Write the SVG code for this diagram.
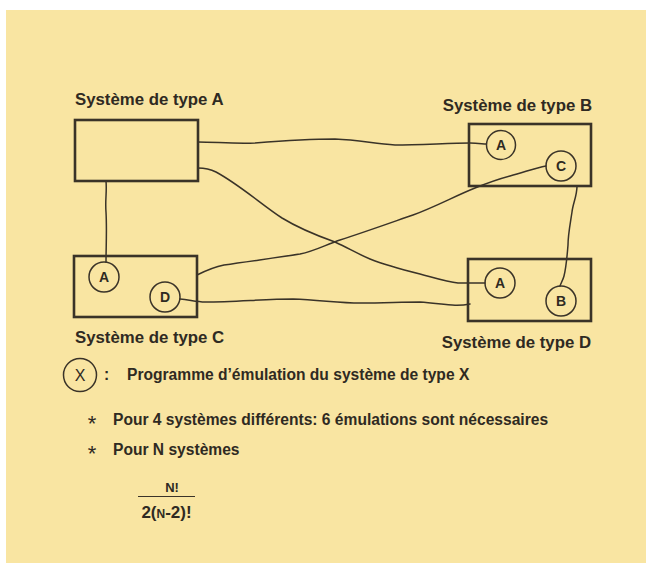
<svg xmlns="http://www.w3.org/2000/svg" width="646" height="563" viewBox="0 0 646 563">
<style>
.bg{fill:#f9e5a2}
.box{fill:none;stroke:#3a3328;stroke-width:2.6}
.emu{fill:none;stroke:#3a3328;stroke-width:1.5}
.wire{fill:none;stroke:#3a3328;stroke-width:1.5;stroke-linejoin:round;stroke-linecap:round}
text{font-family:"Liberation Sans",Arial,Helvetica,sans-serif;font-weight:bold;fill:#2f2a22}
.title{font-size:16.8px}
.cl{font-size:14px;text-anchor:middle}
.leg{font-size:15.6px}
.sm{font-size:12px}
.star{font-size:22px;text-anchor:middle;font-weight:normal}
</style>
<rect x="0" y="0" width="646" height="563" fill="#ffffff"/>
<rect class="bg" x="6" y="10" width="640" height="553"/>

<g id="connectors">
  <path class="wire" d="M198,142 C215,142 235,144 255,143 C280,141 310,139 335,139 C360,140 375,144 395,145 C420,145 450,143 470,143 C478,143 483,144 486,144"/>
  <path class="wire" d="M198,168 C205,168 210,169 216,172 C240,185 262,205 282,218 C300,229 318,236 335,242 C350,249 358,254 370,259 C385,265 400,269 420,274 C435,278 447,282 458,283 L485,283"/>
  <path class="wire" d="M197,275 C205,271 214,267 224,265 C250,261 275,258 300,254 C315,251 325,245 340,240 C365,232 390,223 413,215 C435,207 455,196 475,188 C485,184 495,180 510,176 C525,172 535,168 546,166"/>
  <path class="wire" d="M180,299 C190,300 197,302 205,302 C235,302 265,299 293,299 C320,300 340,303 360,303 C385,303 400,302 420,302 C445,304 455,307 470,304"/>
  <path class="wire" d="M106,181 C107,192 105,200 106,212 C107,230 106,248 106,262"/>
  <path class="wire" d="M577,186 C577,196 573,203 572,212 C570,225 568,235 568,245 C567,258 566,268 564,276 C563,280 561,283 560,286"/>
</g>

<g id="sysA">
  <rect class="box" x="75" y="120" width="123" height="61"/>
  <text class="title" x="75" y="105">Système de type A</text>
</g>

<g id="sysB">
  <rect class="box" x="469" y="124" width="122" height="62"/>
  <text class="title" x="592" y="111" text-anchor="end">Système de type B</text>
  <g id="sysB-emuA">
    <circle class="emu" cx="501" cy="145" r="14.5" fill="#f9e5a2"/>
    <text class="cl" x="501" y="150">A</text>
  </g>
  <g id="sysB-emuC">
    <circle class="emu" cx="561" cy="166" r="15" fill="#f9e5a2"/>
    <text class="cl" x="561" y="171">C</text>
  </g>
</g>

<g id="sysC">
  <rect class="box" x="74" y="256" width="123" height="61"/>
  <text class="title" x="75" y="343">Système de type C</text>
  <g id="sysC-emuA">
    <circle class="emu" cx="104" cy="277" r="15" fill="#f9e5a2"/>
    <text class="cl" x="104" y="282">A</text>
  </g>
  <g id="sysC-emuD">
    <circle class="emu" cx="165" cy="297" r="15" fill="#f9e5a2"/>
    <text class="cl" x="165" y="302">D</text>
  </g>
</g>

<g id="sysD">
  <rect class="box" x="468" y="259" width="123" height="62"/>
  <text class="title" x="591" y="348" text-anchor="end">Système de type D</text>
  <g id="sysD-emuA">
    <circle class="emu" cx="500" cy="283" r="15" fill="#f9e5a2"/>
    <text class="cl" x="500" y="288">A</text>
  </g>
  <g id="sysD-emuB">
    <circle class="emu" cx="561" cy="301" r="15" fill="#f9e5a2"/>
    <text class="cl" x="561" y="306">B</text>
  </g>
</g>

<g id="legend">
  <circle class="emu" cx="80" cy="375" r="16.5"/>
  <text x="80" y="381" font-size="16" text-anchor="middle" style="font-weight:normal">X</text>
  <text class="leg" x="104" y="380">:</text>
  <text class="leg" x="127" y="380">Programme d’émulation du système de type X</text>
  <text class="star" x="92" y="431">*</text>
  <text class="leg" x="113" y="425">Pour 4 systèmes différents: 6 émulations sont nécessaires</text>
  <text class="star" x="92" y="461">*</text>
  <text class="leg" x="113" y="455">Pour N systèmes</text>
  <text x="172" y="492" font-size="13" text-anchor="middle">N!</text>
  <line x1="138" y1="496.5" x2="195" y2="496.5" stroke="#3a3328" stroke-width="1.2"/>
  <text x="166.5" y="518" font-size="17" text-anchor="middle">2(<tspan class="sm">N</tspan>-2)!</text>
</g>
</svg>
